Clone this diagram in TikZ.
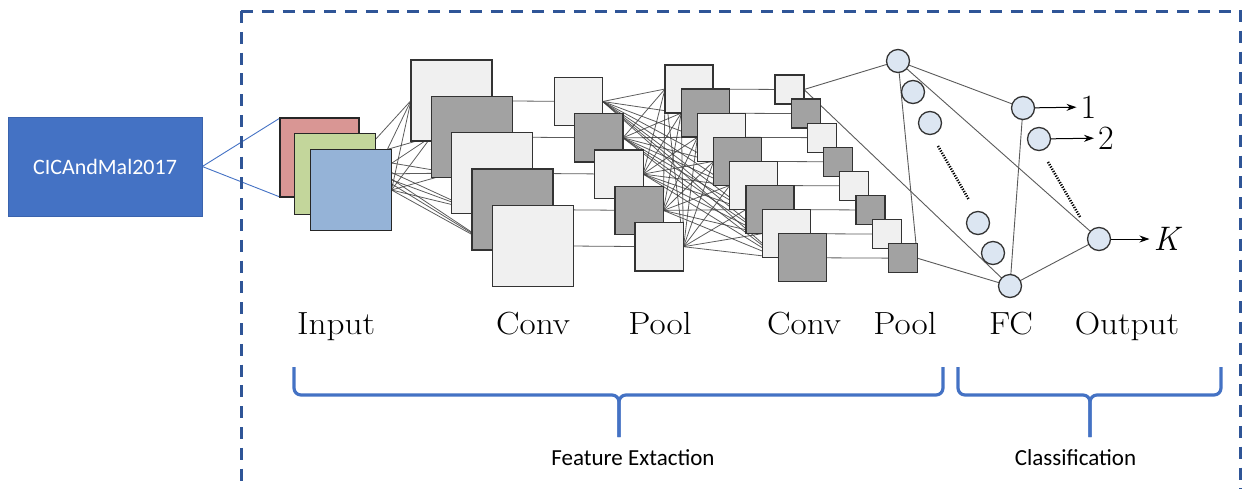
\documentclass[tikz,border=0pt]{standalone}
\usepackage{fontspec}
\newfontfamily\calib{Carlito}
\usetikzlibrary{arrows.meta}
\pgfdeclarelayer{bg}
\pgfsetlayers{bg,main}
\definecolor{boxblue}{HTML}{4472C4}
\definecolor{boxedge}{HTML}{3A63AD}
\definecolor{dashblue}{HTML}{2F5597}
\definecolor{inred}{HTML}{D99694}
\definecolor{ingreen}{HTML}{C3D69B}
\definecolor{inblue}{HTML}{95B3D7}
\definecolor{lightsq}{HTML}{F0F0F0}
\definecolor{darksq}{HTML}{A2A2A2}
\definecolor{neuron}{HTML}{DCE6F2}
\definecolor{edgec}{HTML}{333333}
\definecolor{wirec}{HTML}{404040}
\definecolor{fcwire}{HTML}{5A5A5A}
\newcommand{\lbltext}[1]{\scalebox{1.1}[1]{#1}}
\begin{document}
\begin{tikzpicture}[x=1pt,y=-1pt,
  fmap/.style={draw=edgec, line width=1.3pt, inner sep=0pt, outer sep=0pt, minimum size=#1},
  insq/.style={draw=black!85, line width=1.4pt, inner sep=0pt, outer sep=0pt, minimum size=#1},
  neur/.style={circle, draw=edgec, fill=neuron, line width=1.3pt, minimum size=23pt, inner sep=0pt, outer sep=0pt},
  wire/.style={draw=wirec, line width=0.8pt, opacity=0.85},
  fcline/.style={draw=fcwire, line width=0.9pt},
  lbl/.style={font=\fontsize{32}{36}\selectfont, anchor=base, inner sep=0pt},
  brc/.style={draw=boxblue, line width=3.2pt, rounded corners=7pt},
  dots/.style={draw=black, line width=2.6pt, dash pattern=on 1.2pt off 1.4pt},
  outarrow/.style={draw=black, line width=1pt, -{Stealth[length=10pt,width=7pt]}},
  outlbl/.style={font=\fontsize{34}{36}\selectfont, inner sep=4pt}
]
\useasboundingbox (0,0) rectangle (1242,488);

% dashed frame
\begin{scope}
\clip (0,0) rectangle (1242,488);
\draw[dashblue, line width=3pt, dash pattern=on 12pt off 8.8pt] (241,11) -- (241,495);
\draw[dashblue, line width=3pt, dash pattern=on 12pt off 8.8pt] (241,11) -- (1240.5,11) -- (1240.5,495);
\end{scope}

% source box
\node[fill=boxblue, draw=boxedge, line width=0.6pt, minimum width=194pt, minimum height=99pt, inner sep=0pt,
      text=white, font=\calib\fontsize{22}{26}\selectfont] (src) at (105,166.5) {CICAndMal2017};

% input squares
\node[insq=79pt, fill=inred] (inR) at (319.5,157.5) {};
\node[insq=81pt, fill=ingreen] (inG) at (335,174) {};
\node[insq=81pt, fill=inblue] (inB) at (351,190) {};

% conv1
\foreach \i/\f in {0/lightsq,1/darksq,2/lightsq,3/darksq,4/lightsq}
  \node[fmap=81pt, fill=\f] (cA\i) at ({451.5+20.3*\i},{100.5+36.3*\i}) {};
% pool1
\foreach \i/\f in {0/lightsq,1/darksq,2/lightsq,3/darksq,4/lightsq}
  \node[fmap=48.5pt, fill=\f] (pA\i) at ({578.5+20.2*\i},{101.5+36.3*\i}) {};
% conv2
\foreach \i/\f in {0/lightsq,1/darksq,2/lightsq,3/darksq,4/lightsq,5/darksq,6/lightsq,7/darksq}
  \node[fmap=48pt, fill=\f] (cB\i) at ({689+16.2*\i},{89+24.1*\i}) {};
% pool2
\foreach \i/\f in {0/lightsq,1/darksq,2/lightsq,3/darksq,4/lightsq,5/darksq,6/lightsq,7/darksq}
  \node[fmap=29pt, fill=\f] (pB\i) at ({789.5+16.2*\i},{89.5+24.1*\i}) {};

% fully connected neurons
\node[neur] (f1) at (898,61) {};
\node[neur] (f2) at (913,92) {};
\node[neur] (f3) at (930,123) {};
\node[neur] (f4) at (978,223) {};
\node[neur] (f5) at (993,253) {};
\node[neur] (f6) at (1010,286) {};
% output neurons
\node[neur] (o1) at (1023,108) {};
\node[neur] (o2) at (1039,139) {};
\node[neur] (oK) at (1099,239) {};

% dotted ellipses
\coordinate (d1a) at (938,146);
\coordinate (d1b) at (969,200);
\coordinate (d2a) at (1048,162);
\coordinate (d2b) at (1080,217);
\draw[dots] (d1a) -- (d1b);
\draw[dots] (d2a) -- (d2b);

% output labels and arrows
\node[outlbl] (n1) at (1088.5,107) {1};
\node[outlbl] (n2) at (1106,138) {2};
\node[outlbl] (nK) at (1168,239) {\textit{K}};
\draw[outarrow] (o1) -- (n1);
\draw[outarrow] (o2) -- (n2);
\draw[outarrow] (oK) -- (nK);

% connectors behind shapes
\begin{pgfonlayer}{bg}
  \draw[boxblue, line width=0.9pt] (src.east) -- (inR.north west);
  \draw[boxblue, line width=0.9pt] (src.east) -- (inR.south west);
  \foreach \s in {inR,inG,inB}
    \foreach \j in {0,...,4}
      \draw[wire] (\s.east) -- (cA\j.west);
  \foreach \i in {0,...,4}
    \draw[wire] (cA\i.center) -- (pA\i.center);
  \foreach \i in {0,...,4}
    \foreach \j in {0,...,7}
      \draw[wire] (pA\i.east) -- (cB\j.west);
  \foreach \i in {0,...,7}
    \draw[wire] (cB\i.center) -- (pB\i.center);
  \draw[fcline] (pB0.east) -- (f1);
  \draw[fcline] (pB0.east) -- (f6);
  \draw[fcline] (pB7.east) -- (f1);
  \draw[fcline] (pB7.east) -- (f6);
  \draw[fcline] (f1) -- (o1);
  \draw[fcline] (f1) -- (oK);
  \draw[fcline] (f6) -- (o1);
  \draw[fcline] (f6) -- (oK);
\end{pgfonlayer}

% layer labels
\node[lbl] (tIn) at (336,334) {\lbltext{Input}};
\node[lbl] (tC1) at (533,334) {\lbltext{Conv}};
\node[lbl] (tP1) at (660,334) {\lbltext{Pool}};
\node[lbl] (tC2) at (804,334) {\lbltext{Conv}};
\node[lbl] (tP2) at (905,334) {\lbltext{Pool}};
\node[lbl] (tFC) at (1011,334) {\lbltext{FC}};
\node[lbl] (tOut) at (1127,334) {\lbltext{Output}};

% braces
\draw[brc] (294,367) -- (294,395) -- (619,395) -- (619,437);
\draw[brc] (943,367) -- (943,395) -- (619,395) -- (619,437);
\draw[brc] (958,367) -- (958,395) -- (1090,395) -- (1090,437);
\draw[brc] (1221,367) -- (1221,395) -- (1090,395) -- (1090,437);

\node[font=\calib\fontsize{23}{26}\selectfont, inner sep=0pt] (tFE) at (633,458) {Feature Extaction};
\node[font=\calib\fontsize{23}{26}\selectfont, inner sep=0pt] (tCl) at (1075.5,458) {Classification};
\end{tikzpicture}
\end{document}
